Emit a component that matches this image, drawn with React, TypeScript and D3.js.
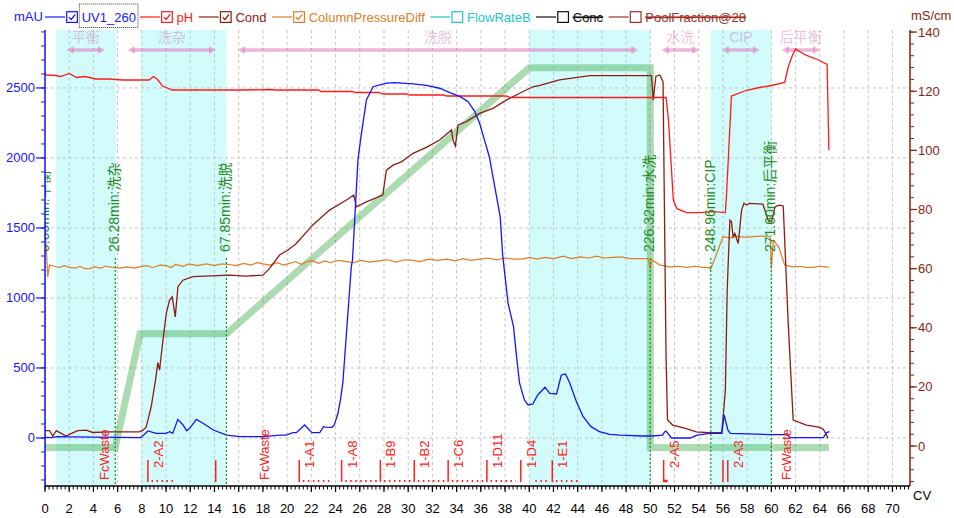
import React, { useEffect } from 'react';
import * as d3 from 'd3';

type Pt = [number, number];

// UV1_260 in mAU vs CV
const uvData: Pt[] = [
  [0, 5], [0.5, 3], [1.0, 10], [2, 8], [4, 6], [6, 4], [7.9, 3], [8.2, 25], [8.5, 50], [8.9, 40],
  [9.2, 33], [10.0, 33], [10.3, 45], [10.55, 33], [10.97, 133], [11.4, 93], [11.7, 52], [11.95, 69],
  [12.5, 133], [13.05, 105], [13.9, 57], [15.0, 21], [16.1, 10], [18, 10], [19.4, 20], [19.9, 21],
  [20.5, 38], [20.76, 38], [21.45, 93], [22.05, 38], [22.7, 38], [23.0, 81], [23.2, 78], [23.7, 76],
  [23.9, 93], [24.2, 178], [24.4, 271], [24.6, 393], [25.0, 866], [25.3, 1224], [25.4, 1271],
  [25.85, 1986], [26.1, 2152], [26.55, 2414], [27.1, 2509], [28.2, 2534], [28.9, 2538], [30.4, 2529],
  [31.5, 2519], [32.6, 2498], [33.4, 2469], [34.3, 2438], [34.95, 2402], [35.5, 2331], [35.9, 2248],
  [36.3, 2129], [36.7, 2009], [37.1, 1819], [37.6, 1581], [37.8, 1310], [38.25, 962], [38.7, 795],
  [38.95, 581], [39.2, 391], [39.6, 271], [39.9, 236], [40.3, 243], [40.7, 307], [41.3, 362],
  [41.7, 319], [42.25, 314], [42.65, 450], [43.0, 457], [43.35, 391], [43.9, 259], [44.45, 152],
  [45.1, 81], [45.8, 45], [46.65, 26], [47.5, 21], [49.4, 14], [50.2, 14], [51.0, 20], [51.2, 45],
  [51.3, 50], [51.75, 0], [53.3, 0], [53.8, 19], [54.9, 33], [55.9, 33], [56.1, 164], [56.4, 57],
  [56.6, 33], [59.9, 24], [61.0, 24], [61.3, 30], [61.5, 2], [64.3, 2], [64.55, 38], [64.8, 45],
];

// pH vs CV
const phData: Pt[] = [
  [0, 7.45], [0.1, 7.42], [0.9, 7.41], [1.3, 7.39], [2.0, 7.45], [2.6, 7.37], [3.3, 7.39], [4.2, 7.34],
  [5.3, 7.34], [6.4, 7.32], [8.6, 7.32], [8.96, 7.39], [9.3, 7.33], [9.7, 7.2], [10.5, 7.12],
  [16.1, 7.12], [18.8, 7.13], [19.0, 7.12], [22.6, 7.12], [22.8, 7.09], [25.4, 7.09], [25.6, 7.07],
  [27.6, 7.07], [27.9, 7.04], [29.9, 7.04], [30.1, 7.02], [32.9, 7.02], [33.2, 7.0], [38.1, 7.0],
  [38.4, 6.97], [51.3, 6.97], [51.5, 6.52], [51.9, 4.92], [52.2, 4.75], [53.0, 4.67], [54.1, 4.67],
  [55.2, 4.69], [56.2, 4.67], [56.3, 5.05], [56.7, 7.0], [57.9, 7.11], [59.0, 7.17], [60.0, 7.21],
  [61.1, 7.27], [61.4, 7.59], [61.7, 7.79], [62.0, 7.94], [62.8, 7.82], [63.9, 7.72], [64.6, 7.63],
  [64.75, 5.92],
];

// Cond in mS/cm vs CV
const condData: Pt[] = [
  [0, 5.2], [0.37, 5.2], [0.65, 3.4], [0.93, 5.2], [1.34, 4.3], [1.75, 3.4], [2.2, 4.3], [2.7, 5.2],
  [3.4, 5.4], [3.95, 4.6], [5.3, 4.8], [7.8, 4.8], [8.1, 5.4], [8.36, 6.5], [8.5, 8.8], [8.77, 13.3],
  [9.13, 22.3], [9.32, 28.2], [9.46, 25.7], [9.68, 33.6], [9.88, 40.3], [10.02, 44.9], [10.29, 49.4],
  [10.51, 50.5], [10.76, 43.7], [10.98, 53.9], [11.39, 56.1], [12.2, 57.3], [15.25, 57.8], [16.6, 57.5],
  [18.0, 57.8], [18.55, 60.1], [19.38, 64.6], [20.07, 66.3], [20.76, 68.5], [22.1, 74.7], [23.5, 79.8],
  [24.9, 83.2], [25.5, 84.9], [25.72, 80.9], [26.55, 82.6], [27.9, 84.9], [28.2, 93.3], [28.75, 95.0],
  [29.44, 96.1], [30.4, 99], [31.5, 101], [32.6, 103.5], [33.57, 106.9], [33.7, 103.5], [33.9, 101.5],
  [34.12, 108.6], [34.8, 109.7], [35.9, 112.5], [37.0, 114.2], [38.1, 117], [39.2, 119.3], [40.3, 121.5],
  [40.87, 122], [42.5, 123.8], [45, 125.3], [49.1, 125.3], [50.1, 125.3], [50.24, 117], [50.46, 125.1],
  [50.79, 125.5], [51.05, 123.2], [51.3, 30], [51.42, 8.8], [51.85, 7.1], [52.9, 6.0], [53.8, 4.8],
  [54.9, 4.5], [55.9, 4.5], [56.2, 18.9], [56.35, 52.8], [56.57, 76.4], [56.7, 75.9], [56.84, 70.8],
  [56.98, 71.9], [57.26, 68.5], [57.54, 79.8], [57.73, 82.1], [57.95, 81.5], [58.17, 82.1], [59.3, 81.8],
  [59.74, 76.4], [60.02, 75.9], [60.3, 80.9], [60.64, 81.5], [60.98, 81.2], [61.39, 41.5], [61.8, 8.8],
  [62.9, 7.1], [64.0, 6.3], [64.3, 5.6], [64.69, 2.6],
];

// ColumnPressureDiff in MPa vs CV
const pressureData: Pt[] = [
  [0, 0.374], [0.23, 0.286], [0.37, 0.306], [0.8, 0.304], [1.2, 0.302], [1.6, 0.305], [2.0, 0.302],
  [2.5, 0.301], [2.9, 0.304], [3.3, 0.300], [3.7, 0.300], [4.1, 0.303], [4.6, 0.301], [5.0, 0.304],
  [5.6, 0.302], [6.2, 0.301], [6.8, 0.303], [7.4, 0.301], [7.8, 0.303], [8.4, 0.305], [8.9, 0.302],
  [9.5, 0.306], [10.0, 0.305], [10.4, 0.302], [10.8, 0.307], [11.4, 0.304], [11.9, 0.308], [12.6, 0.305],
  [13.3, 0.308], [14.0, 0.305], [14.6, 0.308], [15.2, 0.307], [15.8, 0.305], [16.4, 0.309], [17.0, 0.306],
  [17.5, 0.310], [18.0, 0.308], [18.6, 0.306], [19.2, 0.310], [19.7, 0.306], [20.2, 0.309], [20.7, 0.312],
  [21.2, 0.307], [21.6, 0.312], [22.1, 0.313], [22.6, 0.309], [23.1, 0.313], [23.6, 0.310], [24.2, 0.314],
  [24.9, 0.312], [25.5, 0.310], [26.1, 0.314], [26.8, 0.311], [27.6, 0.313], [28.3, 0.315], [29.0, 0.311],
  [29.7, 0.315], [30.4, 0.314], [31.0, 0.312], [31.7, 0.316], [32.4, 0.314], [33.2, 0.316], [33.9, 0.313],
  [34.5, 0.317], [35.2, 0.314], [35.9, 0.316], [36.6, 0.318], [37.3, 0.315], [38.0, 0.318], [38.7, 0.316],
  [39.4, 0.316], [40.0, 0.319], [40.6, 0.316], [41.3, 0.319], [42.0, 0.317], [42.8, 0.321], [43.5, 0.317],
  [44.2, 0.320], [44.9, 0.318], [45.6, 0.321], [46.2, 0.318], [46.9, 0.319], [47.6, 0.320], [48.3, 0.317],
  [49.1, 0.317], [49.8, 0.317], [50.0, 0.300], [50.1, 0.315], [50.8, 0.306], [51.6, 0.303], [52.3, 0.304],
  [53.0, 0.302], [53.7, 0.304], [54.3, 0.302], [54.8, 0.302], [54.98, 0.299], [55.5, 0.326], [56.0, 0.354],
  [56.6, 0.352], [57.1, 0.355], [57.8, 0.353], [58.5, 0.354], [59.1, 0.355], [59.6, 0.355], [59.9, 0.354],
  [60.0, 0.300], [60.15, 0.348], [60.6, 0.337], [61.1, 0.306], [61.8, 0.303], [62.4, 0.304], [62.9, 0.302],
  [63.5, 0.302], [64.0, 0.304], [64.6, 0.303], [64.75, 0.302],
];

// Conc B in % vs CV
const concData: Pt[] = [
  [0, 0], [5.8, 0], [7.85, 30], [15.0, 30], [40.0, 100], [50.0, 100], [50.0, 0], [64.75, 0],
];

// run log markers (minutes), CV = min / minPerCV
const minPerCV = 4.527;
const markerMinutes = [0, 26.28, 67.85, 226.32, 248.96, 271.6];
const markerNames = ['平衡', '洗杂', '洗脱', '水洗', 'CIP', '后平衡'];

// phase arrows across the top
const phaseNames = ['平衡', '洗杂', '洗脱', '水洗', 'CIP', '后平衡'];
const phaseStart = [1.79, 6.83, 15.92, 50.94, 55.9, 60.85];
const phaseEnd = [4.96, 14.13, 49.01, 54.05, 59.06, 64.02];

// shaded watch blocks
const bandStart = [0.91, 7.9, 40.0, 55.0];
const bandEnd = [5.86, 15.0, 50.0, 60.0];

// fractions
const fracCV = [8.5, 14.1, 21.0, 24.5, 27.7, 30.5, 33.3, 36.5, 39.3, 41.9, 51.1, 56.0, 56.4];
const fracLabels = ['2-A2', '', '1-A1', '1-A8', '1-B9', '1-B2', '1-C6', '1-D11', '1-D4', '1-E1', '2-A5', '', '2-A3'];
const fracDotStart = [8.8, 21.3, 24.8, 28.0, 30.8, 33.6, 36.8, 40.5, 42.2];
const fracDotEnd = [10.6, 23.6, 27.5, 30.2, 33.1, 36.3, 38.9, 41.7, 44.0];
const wasteCV = [4.96, 18.17, 61.25];

const leftTicks = [0, 500, 1000, 1500, 2000, 2500];
const rightTicks = [0, 20, 40, 60, 80, 100, 120, 140];
const cvTicks = d3.range(0, 71, 2);

const legendNames = ['UV1_260', 'pH', 'Cond', 'ColumnPressureDiff', 'FlowRateB', 'Conc', 'PoolFraction@28'];
const legendColors = ['#1414ff', '#ff1a1a', '#8c1c13', '#e07b28', '#22c8c8', '#111111', '#a0302a'];
const legendChecked = [true, true, true, true, false, false, false];
const legendStruck = [false, false, false, false, false, true, true];

const FONT = '"Liberation Sans", Arial, "Noto Sans CJK SC", sans-serif';

function textWidth(t: string, size: number) {
  const ctx = document.createElement('canvas').getContext('2d');
  if (!ctx) return t.length * size * 0.55;
  ctx.font = `${size}px "Liberation Sans", Arial, sans-serif`;
  return ctx.measureText(t).width;
}

const App: React.FC = () => {
  useEffect(() => {
    document.body.style.margin = '0';
  }, []);

  const W = 954, H = 518;
  const L = 45, R = 910, T = 30, B = 486;

  const x = d3.scaleLinear().domain([0, 71.45]).range([L, R]);
  const yL = d3.scaleLinear().domain([-343, 2914]).range([B, T]);
  const yR = d3.scaleLinear().domain([-13.5, 140.7]).range([B, T]);
  const yPh = d3.scaleLinear().domain([4, 8]).range([yR(67.6), yR(135.3)]);
  const yP = d3.scaleLinear().domain([0, 0.7]).range([yR(0), yR(140)]);
  const yC = d3.scaleLinear().domain([0, 100]).range([yR(-0.5), yR(127.9)]);

  const mk = (ys: d3.ScaleLinear<number, number>) =>
    d3.line<Pt>().x((d) => x(d[0])).y((d) => ys(d[1]));

  const blue = legendColors[0];
  const condCol = legendColors[2];
  const green = '#1e8c1e';
  const pink = 'rgba(222,120,190,0.55)';
  const pinkText = 'rgba(215,130,195,0.5)';

  // legend layout
  let cx = 45;
  const legend = legendNames.map((name, i) => {
    const w = textWidth(name, 13);
    const item = { name, i, x0: cx, w };
    cx = cx + 36.7 + w + (i === 0 ? 4 : 5.5);
    return item;
  });

  const leftMinor = d3.range(-300, 2901, 100);
  const rightMinor = d3.range(-12, 141, 4);
  const cvMinor = d3.range(0, 71.4, 1 / 3);

  return (
    <svg width={W} height={H} style={{ display: 'block', fontFamily: FONT }}>
      <defs>
        <clipPath id="plot">
          <rect x={L} y={T} width={R - L} height={B - T} />
        </clipPath>
      </defs>
      <rect width={W} height={H} fill="#fff" />

      <g clipPath="url(#plot)">
        {bandStart.map((s, i) => (
          <rect key={i} x={x(s)} y={T} width={x(bandEnd[i]) - x(s)} height={B - T} fill="#d2fbfb" />
        ))}
        {cvTicks.map((t) => (
          <line key={t} x1={x(t)} x2={x(t)} y1={T} y2={B} stroke="#c4c4c4" strokeDasharray="3,3" />
        ))}
        {leftTicks.map((t) => (
          <line key={t} x1={L} x2={R} y1={yL(t)} y2={yL(t)} stroke="#c4c4c4" strokeDasharray="3,3" />
        ))}

        {/* phase arrows */}
        {phaseNames.map((n, i) => {
          const a = x(phaseStart[i]), b = x(phaseEnd[i]), y = 50;
          return (
            <g key={n}>
              <line x1={a + 5} x2={b - 5} y1={y} y2={y} stroke={pink} strokeWidth={3.5} />
              <path d={`M${a},${y} L${a + 7},${y - 4} L${a + 7},${y + 4} Z`} fill={pink} />
              <path d={`M${b},${y} L${b - 7},${y - 4} L${b - 7},${y + 4} Z`} fill={pink} />
              <text x={(a + b) / 2} y={42} textAnchor="middle" fontSize={14} fill={pinkText}>{n}</text>
            </g>
          );
        })}

        <path d={mk(yC)(concData) || ''} fill="none" stroke="rgba(60,170,70,0.42)" strokeWidth={7} strokeLinejoin="miter" />
        <path d={mk(yP)(pressureData) || ''} fill="none" stroke={legendColors[3]} strokeWidth={1.2} />
        <path d={mk(yR)(condData) || ''} fill="none" stroke={condCol} strokeWidth={1.3} />
        <path d={mk(yPh)(phData) || ''} fill="none" stroke={legendColors[1]} strokeWidth={1.3} />
        <path d={mk(yL)(uvData) || ''} fill="none" stroke={blue} strokeWidth={1.3} />

        {/* run log markers */}
        {markerMinutes.map((m, i) => {
          const px = x(m / minPerCV);
          return (
            <g key={m}>
              <line x1={px} x2={px} y1={258} y2={B} stroke={green} strokeWidth={1.2} strokeDasharray="2,2" />
              <text transform={`translate(${px + 4},252) rotate(-90)`} fontSize={14} fill={green}>
                {`${m.toFixed(2)}min:${markerNames[i]}`}
              </text>
            </g>
          );
        })}

        {/* fractions */}
        {fracCV.map((c, i) => (
          <g key={i}>
            <line x1={x(c)} x2={x(c)} y1={460} y2={482} stroke="#ff2020" strokeWidth={1.5} />
            {fracLabels[i] && (
              <text transform={`translate(${x(c) + 15},468) rotate(-90)`} fontSize={13} fill="#ff2020">
                {fracLabels[i]}
              </text>
            )}
          </g>
        ))}
        {fracDotStart.map((s, i) => (
          <line key={i} x1={x(s)} x2={x(fracDotEnd[i])} y1={481} y2={481} stroke="#ff2020" strokeWidth={2} strokeDasharray="1.5,3.5" />
        ))}
        <line x1={x(51.1)} x2={x(51.1) + 4} y1={481} y2={481} stroke="#ff2020" strokeWidth={2.5} />
        {wasteCV.map((c) => (
          <text key={c} transform={`translate(${x(c) + 4},480) rotate(-90)`} fontSize={13} fill="#ff2020">FcWaste</text>
        ))}
      </g>

      {/* left axis */}
      <line x1={L} x2={L} y1={T} y2={B} stroke={blue} strokeWidth={1.5} />
      {leftMinor.map((t) => (
        <line key={t} x1={L - 4} x2={L} y1={yL(t)} y2={yL(t)} stroke={blue} />
      ))}
      {leftTicks.map((t) => (
        <g key={t}>
          <line x1={L - 9} x2={L} y1={yL(t)} y2={yL(t)} stroke={blue} strokeWidth={1.2} />
          <text x={L - 10} y={yL(t) + 4.5} textAnchor="end" fontSize={13} fill={blue}>{t}</text>
        </g>
      ))}
      <text x={14} y={21} fontSize={13} fill={blue}>mAU</text>

      {/* right axis */}
      <line x1={R} x2={R} y1={T} y2={B} stroke={condCol} strokeWidth={1.5} />
      {rightMinor.map((t) => (
        <line key={t} x1={R} x2={R + 4} y1={yR(t)} y2={yR(t)} stroke={condCol} />
      ))}
      {rightTicks.map((t) => (
        <g key={t}>
          <line x1={R} x2={R + 7} y1={yR(t)} y2={yR(t)} stroke={condCol} strokeWidth={1.2} />
          <text x={R + 8} y={yR(t) + 4.5} fontSize={13} fill={condCol}>{t}</text>
        </g>
      ))}
      <text x={911} y={20} fontSize={13} fill={condCol}>mS/cm</text>

      {/* bottom axis */}
      <line x1={L} x2={R} y1={B} y2={B} stroke="#000" strokeWidth={1.5} />
      {cvMinor.map((t, i) => (
        <line key={i} x1={x(t)} x2={x(t)} y1={B} y2={B + 3.5} stroke="#000" />
      ))}
      {cvTicks.map((t) => (
        <g key={t}>
          <line x1={x(t)} x2={x(t)} y1={B} y2={B + 6} stroke="#000" strokeWidth={1.2} />
          <text x={x(t)} y={513} textAnchor="middle" fontSize={13} fill="#000">{t}</text>
        </g>
      ))}
      <text x={913} y={500} fontSize={13} fill="#000">CV</text>

      {/* legend */}
      {legend.map(({ name, i, x0, w }) => {
        const col = legendColors[i];
        const bx = x0 + 21.7, by = 11.7, s = 10.7;
        const tx = x0 + 36.7;
        return (
          <g key={name}>
            <line x1={x0} x2={x0 + 20} y1={17} y2={17} stroke={col} strokeWidth={1.2} />
            <rect x={bx} y={by} width={s} height={s} fill="#fff" stroke={col} strokeWidth={1.2} />
            {legendChecked[i] && (
              <path d={`M${bx + 2.2},${by + 5.4} L${bx + 4.4},${by + 7.8} L${bx + 8.6},${by + 2.8}`} fill="none" stroke={col} strokeWidth={1.2} />
            )}
            <text x={tx} y={21.5} fontSize={13} fill={col} textDecoration={legendStruck[i] ? 'line-through' : undefined}>{name}</text>
            {legendStruck[i] && <line x1={tx} x2={tx + w} y1={17} y2={17} stroke={col} strokeWidth={1} />}
            {i === 0 && (
              <rect x={tx - 2.4} y={4} width={w + 4.5} height={23.5} fill="none" stroke="#333" strokeDasharray="1,1" />
            )}
          </g>
        );
      })}
    </svg>
  );
};

export default App;
